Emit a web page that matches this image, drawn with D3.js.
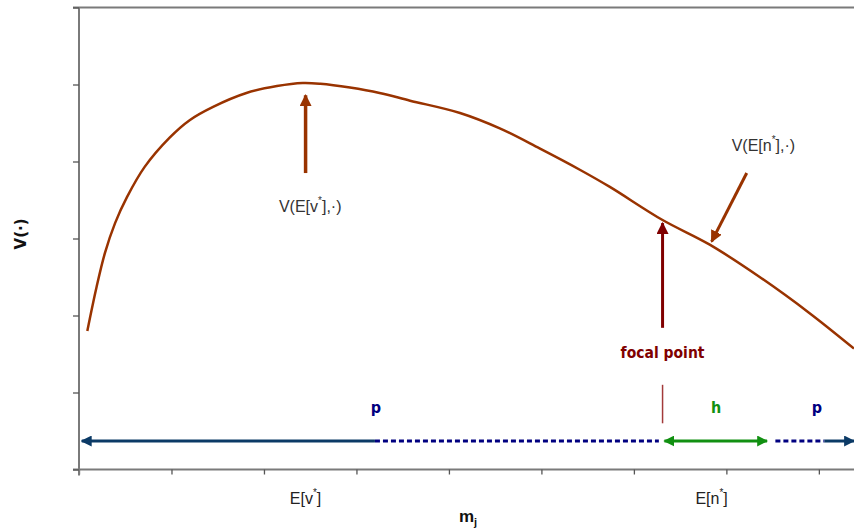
<!DOCTYPE html>
<html>
<head>
<meta charset="utf-8">
<script src="https://cdn.jsdelivr.net/npm/d3@7"></script>
<style>
  body { margin: 0; background: #fff; }
  svg { display: block; }
</style>
</head>
<body>
<div id="chart-area"></div>
<script>
/*
*    V(.) against m_j, with focal point annotations
*/

// Data (category units on x, value units on y)
var xTicks = [0, 1, 2, 3, 4, 5, 6, 7, 8];
var yTicks = [0, 1, 2, 3, 4, 5, 6];
var curveX = [0.09, 0.19, 0.28, 0.39, 0.52, 0.71, 0.98, 1.20, 1.45, 1.81, 2.14, 2.42,
              2.61, 2.93, 3.25, 3.58, 4.12, 4.55, 4.98, 5.42, 5.74, 6.31, 6.82, 7.36, 7.90, 8.38];
var curveY = [1.80, 2.37, 2.81, 3.20, 3.54, 3.93, 4.31, 4.54, 4.71, 4.89, 4.98, 5.02,
              5.01, 4.96, 4.89, 4.79, 4.63, 4.43, 4.17, 3.89, 3.67, 3.24, 2.92, 2.50, 2.03, 1.57];
var tickLabelX = [2.45, 6.84];
var tickLabelVar = ["v", "n"];

var peakX = 2.45, focalX = 6.31, nStarX = 6.84;
var rangeY = 0.37;          // level of the p / h range arrows
var pSplit = 3.20;          // where solid p turns dashed
var hEnd = 7.44, pRightStart = 7.53, pRightSolid = 8.06;

var width = 854, height = 529;
var margin = {left: 79, right: 0, top: 7.5, bottom: 59.5};

var svg = d3.select("#chart-area").append("svg")
    .attr("width", width)
    .attr("height", height)
    .style("font-family", "'Liberation Sans Narrow', 'Liberation Sans', Arial, sans-serif");

// Scales
var x = d3.scaleLinear().domain([0, 8.38]).range([margin.left, width]);
var y = d3.scaleLinear().domain([0, 6]).range([height - margin.bottom, margin.top]);

// Arrow heads
var defs = svg.append("defs");
function marker(id, color, size) {
    defs.append("marker")
        .attr("id", id)
        .attr("viewBox", "0 0 10 10")
        .attr("refX", 9).attr("refY", 5)
        .attr("markerUnits", "userSpaceOnUse")
        .attr("markerWidth", size).attr("markerHeight", size)
        .attr("orient", "auto-start-reverse")
      .append("path")
        .attr("d", "M0,0 L10,5 L0,10 z")
        .attr("fill", color);
}
marker("head-brown", "#993300", 12);
marker("head-maroon", "#800000", 12);
marker("head-blue", "#0b3a66", 11);
marker("head-green", "#119011", 11);

var axisColor = "#7a7a7a";

// Top border
svg.append("line")
    .attr("x1", x(0) - 6).attr("x2", width)
    .attr("y1", y(6)).attr("y2", y(6))
    .attr("stroke", axisColor).attr("stroke-width", 2);

// Axes
var xAxis = svg.append("g")
    .attr("transform", "translate(0," + y(0) + ")")
    .call(d3.axisBottom(x).tickValues(xTicks).tickFormat("").tickSize(5).tickSizeOuter(0));
var yAxis = svg.append("g")
    .attr("transform", "translate(" + x(0) + ",0)")
    .call(d3.axisLeft(y).tickValues(yTicks).tickFormat("").tickSize(6).tickSizeOuter(0));

[xAxis, yAxis].forEach(function(a) {
    a.select(".domain").attr("stroke", axisColor).attr("stroke-width", 2);
    a.selectAll(".tick line").attr("stroke", "#555").attr("stroke-width", 1.3);
});
xAxis.select(".domain").attr("d", "M" + (x(0) - 6) + ",0H" + width);
yAxis.select(".domain").attr("d", "M0," + y(6) + "V" + (y(0) + 6));

// Tick labels
var tl = svg.selectAll(".tick-label")
    .data(tickLabelX)
    .enter().append("text")
    .attr("class", "tick-label")
    .attr("x", function(d) { return x(d); })
    .attr("y", y(0) + 34)
    .attr("text-anchor", "middle")
    .attr("font-size", 16)
    .attr("fill", "#222");
tl.append("tspan").text(function(d, i) { return "E[" + tickLabelVar[i]; });
tl.append("tspan").attr("dy", -8).attr("font-size", 10).text("*");
tl.append("tspan").attr("dy", 8).text("]");

// Axis titles
var xt = svg.append("text")
    .attr("x", 468).attr("y", height - 7)
    .attr("text-anchor", "middle")
    .attr("font-weight", "bold")
    .attr("font-size", 17)
    .attr("fill", "#111");
xt.append("tspan").text("m");
xt.append("tspan").attr("dy", 4).attr("font-size", 11).text("j");

svg.append("text")
    .attr("transform", "translate(26," + y(3.06) + ") rotate(-90)")
    .attr("text-anchor", "middle")
    .attr("font-family", "'DejaVu Sans', sans-serif")
    .attr("font-weight", "bold")
    .attr("font-size", 15)
    .attr("fill", "#111")
    .text("V(\u00b7)");

// Curve
var line = d3.line()
    .x(function(d, i) { return x(curveX[i]); })
    .y(function(d) { return y(d); })
    .curve(d3.curveCatmullRom.alpha(0.5));

svg.append("path")
    .attr("d", line(curveY))
    .attr("fill", "none")
    .attr("stroke", "#993300")
    .attr("stroke-width", 2.5);

// Annotation arrows
function arrow(x1, y1, x2, y2, color, head, w) {
    svg.append("line")
        .attr("x1", x(x1)).attr("y1", y(y1))
        .attr("x2", x(x2)).attr("y2", y(y2))
        .attr("stroke", color).attr("stroke-width", w)
        .attr("marker-end", "url(#" + head + ")");
}
arrow(peakX, 3.85, peakX, 4.86, "#993300", "head-brown", 3.5);
arrow(7.22, 3.85, nStarX, 2.96, "#993300", "head-brown", 3);
arrow(focalX, 1.84, focalX, 3.20, "#800000", "head-maroon", 3);

// Annotation labels
function label(tx, ty, base, sup, tail) {
    var t = svg.append("text")
        .attr("x", x(tx)).attr("y", y(ty))
        .attr("text-anchor", "middle")
        .attr("font-size", 16)
        .attr("fill", "#333");
    t.append("tspan").text(base);
    t.append("tspan").attr("dy", -8).attr("font-size", 10).text(sup);
    t.append("tspan").attr("dy", 8).text(tail);
}
label(2.50, 3.35, "V(E[v", "*", "],\u00b7)");
label(7.40, 4.14, "V(E[n", "*", "],\u00b7)");

svg.append("text")
    .attr("x", x(focalX)).attr("y", y(1.45))
    .attr("text-anchor", "middle")
    .attr("font-family", "'DejaVu Sans Condensed', 'DejaVu Sans', sans-serif")
    .attr("font-weight", "bold")
    .attr("font-size", 15.5)
    .attr("fill", "#800000")
    .text("focal point");

// focal tick
svg.append("line")
    .attr("x1", x(focalX)).attr("x2", x(focalX))
    .attr("y1", y(1.10)).attr("y2", y(0.60))
    .attr("stroke", "#a33a3a").attr("stroke-width", 1.5);

// Range arrows
svg.append("line")
    .attr("x1", x(pSplit)).attr("x2", x(0.03))
    .attr("y1", y(rangeY)).attr("y2", y(rangeY))
    .attr("stroke", "#0b3a66").attr("stroke-width", 3)
    .attr("marker-end", "url(#head-blue)");
svg.append("line")
    .attr("x1", x(pSplit)).attr("x2", x(focalX - 0.04))
    .attr("y1", y(rangeY)).attr("y2", y(rangeY))
    .attr("stroke", "#000080").attr("stroke-width", 3)
    .attr("stroke-dasharray", "5,3");
svg.append("line")
    .attr("x1", x(focalX + 0.02)).attr("x2", x(hEnd))
    .attr("y1", y(rangeY)).attr("y2", y(rangeY))
    .attr("stroke", "#119011").attr("stroke-width", 3)
    .attr("marker-start", "url(#head-green)")
    .attr("marker-end", "url(#head-green)");
svg.append("line")
    .attr("x1", x(pRightStart)).attr("x2", x(pRightSolid))
    .attr("y1", y(rangeY)).attr("y2", y(rangeY))
    .attr("stroke", "#000080").attr("stroke-width", 3)
    .attr("stroke-dasharray", "5,3");
svg.append("line")
    .attr("x1", x(pRightSolid)).attr("x2", x(8.38))
    .attr("y1", y(rangeY)).attr("y2", y(rangeY))
    .attr("stroke", "#0b3a66").attr("stroke-width", 3)
    .attr("marker-end", "url(#head-blue)");

// Range labels
var rangeLabels = [{t: "p", x: 3.21, c: "#000080"}, {t: "h", x: 6.89, c: "#119011"}, {t: "p", x: 7.98, c: "#000080"}];
svg.selectAll(".range-label")
    .data(rangeLabels)
    .enter().append("text")
    .attr("class", "range-label")
    .attr("x", function(d) { return x(d.x); })
    .attr("y", y(0.73))
    .attr("text-anchor", "middle")
    .attr("font-family", "'DejaVu Sans Condensed', 'DejaVu Sans', sans-serif")
    .attr("font-weight", "bold")
    .attr("font-size", 16)
    .attr("fill", function(d) { return d.c; })
    .text(function(d) { return d.t; });
</script>
</body>
</html>
